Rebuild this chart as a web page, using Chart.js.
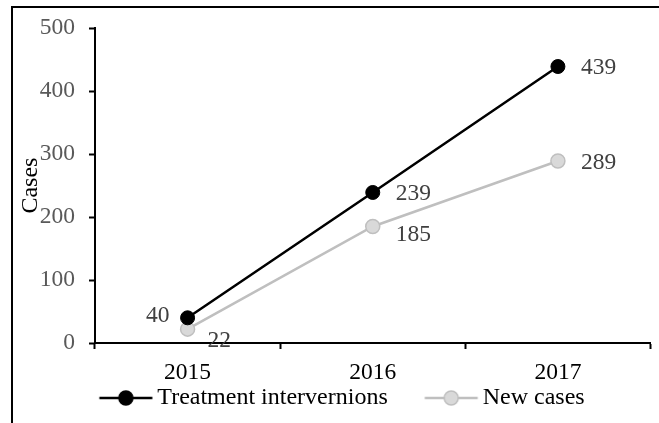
<!DOCTYPE html>
<html>
<head>
<meta charset="utf-8">
<script src="https://cdn.jsdelivr.net/npm/chart.js@4.4.1/dist/chart.umd.min.js"></script>
<style>
  html, body { margin: 0; padding: 0; background: #fff; }
  #wrap { width: 659px; height: 423px; position: relative; }
</style>
</head>
<body>
<div id="wrap"><canvas id="chart"></canvas></div>
<script>
const years = ['2015', '2016', '2017'];
const treatment = [40, 239, 439];
const newCases = [22, 185, 289];
const yTicks = [0, 100, 200, 300, 400, 500];

const FONT = "'Liberation Serif', 'Times New Roman', serif";

// value label placement per point: [align, dx, dy]
const labelSpots = [
    [['right', -18, -2], ['left', 23, 1], ['left', 23, 1]],
    [['left', 20, 12], ['left', 23, 8], ['left', 23, 2]]
];

// legend symbol: a short line with a dot in the middle (left part of the image is blank on purpose)
function legendSymbol(lineColor, fill, border) {
    const c = document.createElement('canvas');
    c.width = 154;
    c.height = 18;
    const g = c.getContext('2d');
    g.strokeStyle = lineColor;
    g.lineWidth = 2.5;
    g.beginPath();
    g.moveTo(69.5, 9);
    g.lineTo(122.5, 9);
    g.stroke();
    g.beginPath();
    g.arc(96, 9, 7, 0, Math.PI * 2);
    g.fillStyle = fill;
    g.fill();
    g.lineWidth = 1.5;
    g.strokeStyle = border;
    g.stroke();
    return c;
}
const symbols = [
    legendSymbol('#000000', '#000000', '#000000'),
    legendSymbol('#bfbfbf', '#d9d9d9', '#bfbfbf')
];

const framePlugin = {
    id: 'frame',
    beforeDraw(chart) {
        const ctx = chart.ctx;
        ctx.save();
        ctx.fillStyle = '#000';
        ctx.fillRect(11, 6, 2, chart.height - 6);
        ctx.fillRect(11, 6, chart.width - 11, 2);
        ctx.restore();
    }
};

const valueLabels = {
    id: 'valueLabels',
    afterDatasetsDraw(chart) {
        const ctx = chart.ctx;
        ctx.save();
        ctx.font = '23.5px ' + FONT;
        ctx.fillStyle = '#404040';
        ctx.textBaseline = 'middle';
        chart.data.datasets.forEach((ds, i) => {
            chart.getDatasetMeta(i).data.forEach((pt, j) => {
                const [align, dx, dy] = labelSpots[i][j];
                ctx.textAlign = align;
                ctx.fillText(String(ds.data[j]), pt.x + dx, pt.y + dy);
            });
        });
        ctx.restore();
    }
};

new Chart(document.getElementById('chart'), {
    type: 'line',
    data: {
        labels: years,
        datasets: [
            {
                label: 'Treatment intervernions',
                data: treatment,
                borderColor: '#000000',
                backgroundColor: '#000000',
                pointBackgroundColor: '#000000',
                pointBorderColor: '#000000',
                borderWidth: 2.5,
                pointRadius: 7,
                pointBorderWidth: 1,
                tension: 0
            },
            {
                label: 'New cases',
                data: newCases,
                borderColor: '#bfbfbf',
                backgroundColor: '#d9d9d9',
                pointBackgroundColor: '#d9d9d9',
                pointBorderColor: '#bfbfbf',
                borderWidth: 2.5,
                pointRadius: 7,
                pointBorderWidth: 1.5,
                tension: 0
            }
        ]
    },
    options: {
        responsive: true,
        maintainAspectRatio: false,
        animation: false,
        events: [],
        layout: { padding: { top: 25, left: 0, right: 6, bottom: 3 } },
        scales: {
            x: {
                offset: true,
                afterFit: s => { s.height = 37; },
                border: { color: '#000', width: 2 },
                grid: {
                    offset: true,
                    drawOnChartArea: false,
                    tickLength: 6,
                    tickColor: '#000',
                    tickWidth: 2
                },
                ticks: {
                    color: '#000',
                    padding: 10,
                    font: { family: FONT, size: 23.5 }
                }
            },
            y: {
                min: 0,
                max: 500,
                afterFit: s => { s.width = 95; },
                afterBuildTicks: s => { s.ticks = yTicks.map(v => ({ value: v })); },
                border: { color: '#000', width: 2 },
                grid: {
                    drawOnChartArea: false,
                    tickLength: 6,
                    tickColor: '#000',
                    tickWidth: 2
                },
                ticks: {
                    color: '#595959',
                    padding: 14,
                    font: { family: FONT, size: 23.5 }
                },
                title: {
                    display: true,
                    text: 'Cases',
                    color: '#000',
                    padding: { top: 16, bottom: 0 },
                    font: { family: FONT, size: 24 }
                }
            }
        },
        plugins: {
            legend: {
                position: 'bottom',
                labels: {
                    usePointStyle: true,
                    pointStyleWidth: 77,
                    padding: 6,
                    color: '#000',
                    font: { family: FONT, size: 24 },
                    generateLabels(chart) {
                        const items = Chart.defaults.plugins.legend.labels.generateLabels(chart);
                        items.forEach((it, i) => { it.pointStyle = symbols[i]; });
                        return items;
                    }
                }
            },
            tooltip: { enabled: false }
        }
    },
    plugins: [framePlugin, valueLabels]
});
</script>
</body>
</html>
